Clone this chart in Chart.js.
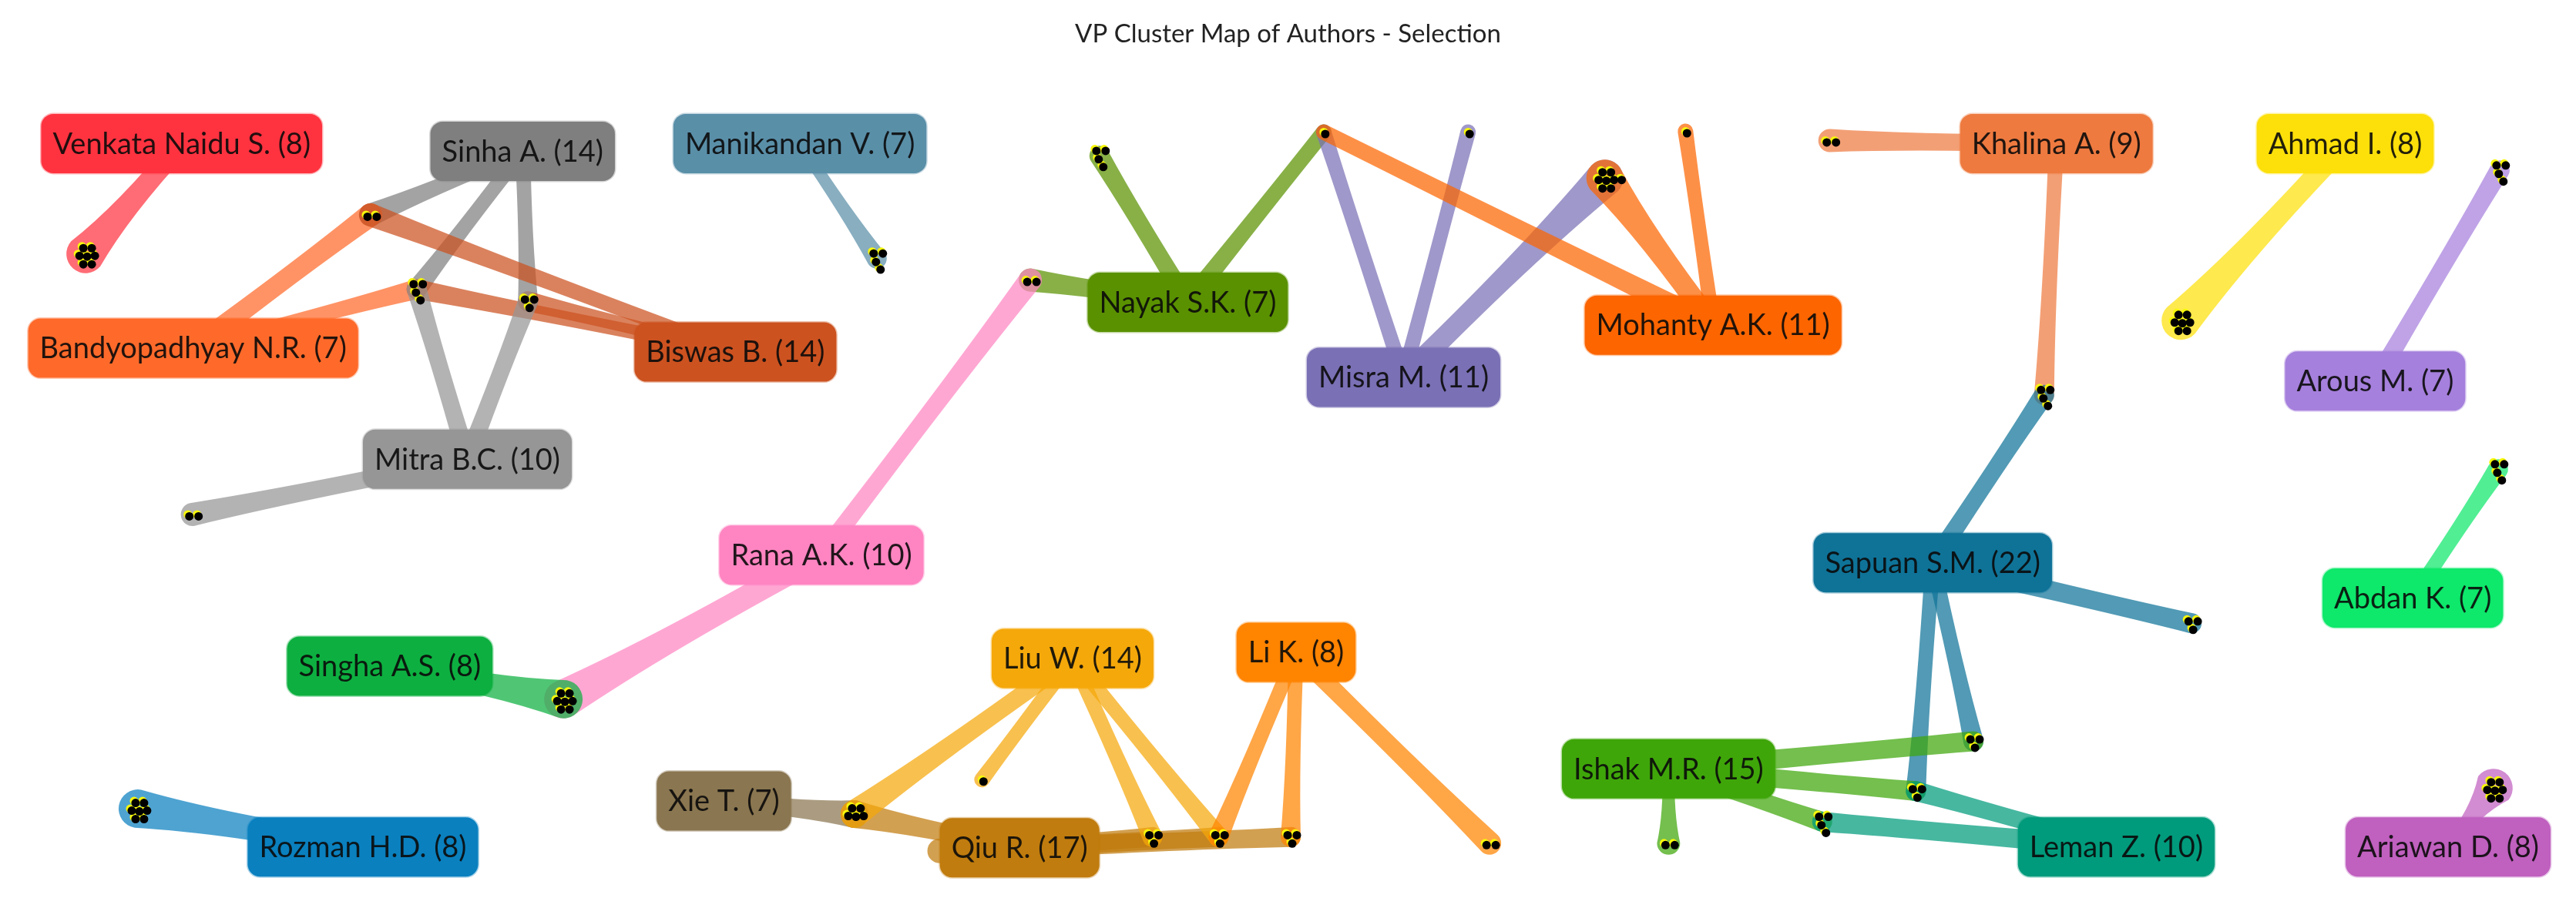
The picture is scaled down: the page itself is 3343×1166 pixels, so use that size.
<!DOCTYPE html>
<html>
<head>
<meta charset="utf-8">
<title>VP Cluster Map of Authors - Selection</title>
<script src="https://cdn.jsdelivr.net/npm/chart.js@4"></script>
<style>
  html, body { margin: 0; padding: 0; background: #fff; }
  #wrap { width: 3343px; height: 1166px; }
</style>
</head>
<body>
<div id="wrap"><canvas id="map"></canvas></div>
<script>
// authors (cluster labels), map coordinates
const authors = ['Venkata Naidu S.', 'Sinha A.', 'Bandyopadhyay N.R.', 'Mitra B.C.', 'Biswas B.', 'Manikandan V.',
  'Nayak S.K.', 'Misra M.', 'Mohanty A.K.', 'Rana A.K.', 'Khalina A.', 'Ahmad I.', 'Arous M.', 'Sapuan S.M.',
  'Abdan K.', 'Ishak M.R.', 'Leman Z.', 'Ariawan D.', 'Liu W.', 'Li K.', 'Xie T.', 'Qiu R.', 'Singha A.S.', 'Rozman H.D.'];
const authorPapers = [8, 14, 7, 10, 14, 7, 7, 11, 11, 10, 9, 8, 7, 22, 7, 15, 10, 8, 14, 8, 7, 17, 8, 8];
const authorX = [231, 675, 246, 603, 952, 1036, 1541, 1822, 2225, 1064, 2672, 3048, 3087, 2511, 3136, 2167, 2750, 3182, 1391, 1682, 937, 1322, 502, 467];
const authorY = [187, 197, 454, 599, 459, 187, 394, 492, 424, 724, 187, 187, 497, 734, 780, 1003, 1105, 1105, 859, 851, 1045, 1106, 869, 1105];

// publication clusters: map position and number of papers
const nodeX = [106, 477, 537, 682, 245, 1136, 1426, 1718, 1906, 2189, 2084, 1336, 2377, 2656, 2834, 3249,
  3247, 2848, 2564, 2489, 2367, 2167, 1934, 3241, 1107, 1273, 1495, 1581, 1675, 728, 174, 1218];
const nodeY = [331, 280, 377, 393, 671, 337, 203, 172, 172, 171, 232, 365, 183, 515, 418, 222,
  612, 813, 967, 1032, 1072, 1100, 1100, 1028, 1062, 1017, 1092, 1092, 1092, 912, 1055, 1110];
const nodePapers = [7, 2, 4, 3, 2, 4, 4, 1, 1, 1, 8, 2, 2, 4, 7, 4,
  4, 3, 3, 3, 4, 2, 2, 7, 5, 1, 3, 3, 3, 7, 7, 0];

// links author -> cluster, with link strength
const linkAuthor = [0, 1, 1, 1, 2, 2, 4, 4, 4, 3, 3, 3, 5,
  6, 6, 6, 9, 9, 7, 7, 7, 8, 8, 8, 10, 10,
  11, 12, 14, 17, 13, 13, 13, 13, 15, 15, 15, 15, 16, 16,
  20, 21, 21, 21, 21, 21, 18, 18, 18, 18, 19, 19, 19, 22, 23];
const linkNode = [0, 1, 2, 3, 1, 2, 1, 2, 3, 2, 3, 4, 5,
  11, 6, 7, 11, 29, 7, 8, 10, 7, 10, 9, 12, 13,
  14, 15, 16, 23, 13, 19, 18, 17, 18, 19, 20, 21, 19, 20,
  24, 24, 26, 27, 28, 31, 24, 25, 26, 27, 27, 28, 22, 29, 30];
const linkStrength = [4, 2, 2, 2, 4, 2, 2, 2, 2, 3, 3, 3, 1,
  3, 3, 3, 3, 5, 2, 2, 4, 4, 4, 2, 3, 2,
  4, 3, 2, 1, 3, 2, 2, 4, 4, 4, 3, 1, 3, 4,
  3, 3, 4, 4, 4, 1, 3, 2, 2, 2, 2, 2, 3, 4, 5];

const authorColors = ['#ff3340', '#7f7f7f', '#ff6a2a', '#969696', '#cc5220', '#5a8fa8',
  '#5a9100', '#7a70b5', '#fc6500', '#ff85c2', '#ee7a40', '#fde00a', '#a680dd', '#0f7398',
  '#0ee86b', '#3fa60a', '#009b7c', '#c060bf', '#f5a80a', '#ff8400', '#8a7650', '#c07c0e', '#0db040', '#0a80bf'];

const titleText = 'VP Cluster Map of Authors - Selection';
const titleBlock = 75; // title height + padding, the y scale starts below it
const bulbRadius = [16, 10, 15, 13, 13, 18, 20, 25, 24];
const dotPattern = [[-5, -10], [6, -10], [-10, 0], [0, 1], [10, 0], [-5, 11], [6, 11], [20, 0]];
const dotShapes = {
  1: [[0, 0]],
  2: [[-6, 0], [6, 0]],
  3: [[-6, -5], [6, -5], [0, 6]],
  4: [[-6, -9], [6, -9], [-3, 2], [3, 12]]
};

function hexToRgba(hex, alpha) {
  const n = parseInt(hex.slice(1), 16);
  return `rgba(${n >> 16}, ${(n >> 8) & 255}, ${n & 255}, ${alpha})`;
}

function dotOffsets(count) {
  return dotShapes[count] || dotPattern.slice(0, count);
}

// one point per paper, around the cluster position
function buildDots(dx, dy) {
  const points = [];
  nodeX.forEach((x, i) => {
    dotOffsets(nodePapers[i]).forEach(off => {
      points.push({ x: x + off[0] + dx, y: nodeY[i] + off[1] + dy });
    });
  });
  return points;
}

function drawLink(ctx, lx, ly, nx, ny, width, r) {
  const angle = Math.atan2(ly - ny, lx - nx);
  const px = -Math.sin(angle);
  const py = Math.cos(angle);
  const cx = nx + (lx - nx) * 0.4;
  const cy = ny + (ly - ny) * 0.4;
  const waist = width * 0.34 + 1;
  const end = width / 2;
  ctx.beginPath();
  ctx.arc(nx, ny, r, angle + Math.PI / 2, angle + Math.PI * 1.5);
  ctx.quadraticCurveTo(cx - px * waist, cy - py * waist, lx - px * end, ly - py * end);
  ctx.lineTo(lx + px * end, ly + py * end);
  ctx.quadraticCurveTo(cx + px * waist, cy + py * waist, nx + px * r, ny + py * r);
  ctx.closePath();
  ctx.fill();
}

const clusterMapPlugin = {
  id: 'clusterMap',
  beforeDatasetsDraw(chart) {
    const { ctx, scales: { x, y } } = chart;
    ctx.save();

    linkAuthor.forEach((a, i) => {
      const n = linkNode[i];
      ctx.fillStyle = hexToRgba(authorColors[a], 0.72);
      drawLink(ctx,
        x.getPixelForValue(authorX[a]), y.getPixelForValue(authorY[a]),
        x.getPixelForValue(nodeX[n]), y.getPixelForValue(nodeY[n]),
        12 + linkStrength[i] * 4, bulbRadius[nodePapers[n]]);
    });

    ctx.font = '38px Lato, "Open Sans", sans-serif';
    ctx.textAlign = 'center';
    ctx.textBaseline = 'middle';
    authors.forEach((name, i) => {
      const label = `${name} (${authorPapers[i]})`;
      const w = ctx.measureText(label).width + 30;
      const h = 77;
      const cx = x.getPixelForValue(authorX[i]);
      const cy = y.getPixelForValue(authorY[i]);
      ctx.beginPath();
      ctx.roundRect(cx - w / 2, cy - h / 2, w, h, 16);
      ctx.fillStyle = authorColors[i];
      ctx.fill();
      ctx.strokeStyle = hexToRgba(authorColors[i], 0.35);
      ctx.lineWidth = 3;
      ctx.stroke();
      ctx.fillStyle = 'rgba(10, 10, 10, 0.9)';
      ctx.fillText(label, cx, cy + 1);
    });
    ctx.restore();
  }
};

new Chart(document.getElementById('map'), {
  type: 'scatter',
  data: {
    datasets: [
      { label: 'shadow', data: buildDots(2, 2.5), backgroundColor: '#000', pointRadius: 5.5, pointBorderWidth: 0 },
      { label: 'papers', data: buildDots(0, 0), backgroundColor: '#f7f70c', pointRadius: 5.5, pointBorderWidth: 0 }
    ]
  },
  options: {
    responsive: true,
    maintainAspectRatio: false,
    animation: false,
    layout: { padding: 0 },
    plugins: {
      legend: { display: false },
      tooltip: { enabled: false },
      title: {
        display: true,
        text: titleText,
        color: '#222',
        font: { family: 'Lato, "Open Sans", sans-serif', size: 33, weight: 'normal', lineHeight: 1.2 },
        padding: { top: 25, bottom: titleBlock - 25 - 33 * 1.2 }
      }
    },
    scales: {
      x: { type: 'linear', min: 0, max: 3343, display: false },
      y: { type: 'linear', min: titleBlock, max: 1166, reverse: true, display: false }
    }
  },
  plugins: [clusterMapPlugin]
});
</script>
</body>
</html>
